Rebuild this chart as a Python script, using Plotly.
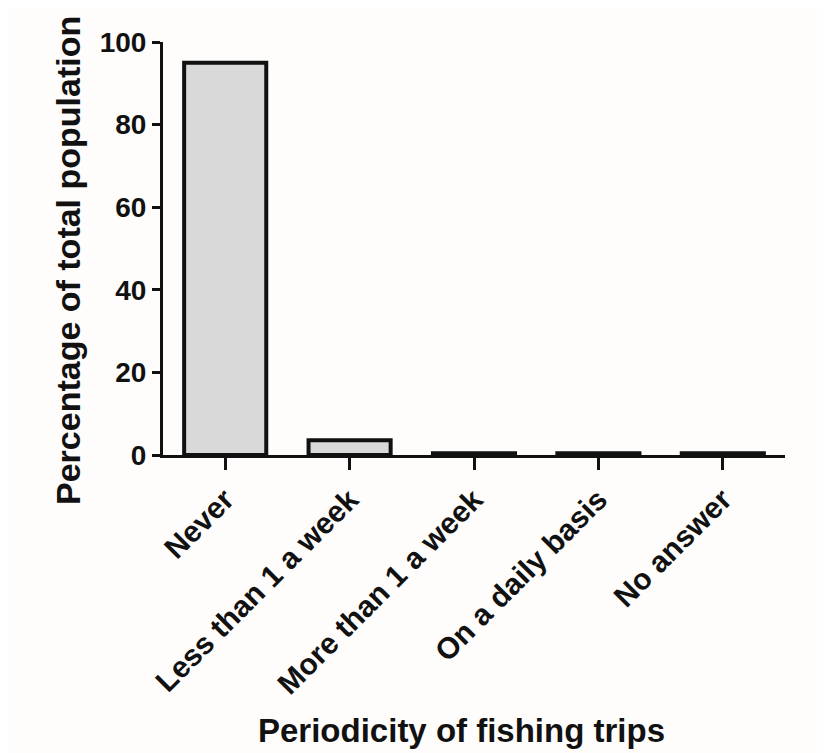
import plotly.graph_objects as go

categories = ["Never", "Less than 1 a week", "More than 1 a week", "On a daily basis", "No answer"]
values = [95.0, 3.6, 0.4, 0.4, 0.4]
y_ticks = [0, 20, 40, 60, 80, 100]
x_title = "Periodicity of fishing trips"
y_title = "Percentage of total population"

FONT = "Liberation Sans, Arial, sans-serif"
INK = "#111111"

fig = go.Figure()
fig.add_trace(go.Bar(
    x=categories, y=values,
    width=0.66,
    marker=dict(color="#d9d9d9", line=dict(color=INK, width=4)),
))

# page has an 8px body margin; plot area in page coords: x 163..785, y 42..455
fig.update_layout(
    width=825, height=753,
    margin=dict(l=155, r=48, t=34, b=306),
    paper_bgcolor="#fefdfc", plot_bgcolor="#fefdfc",
    showlegend=False,
    font=dict(family=FONT, color=INK),
)
fig.update_xaxes(
    range=[-0.5, 4.5],
    automargin=False,
    showline=True, linecolor=INK, linewidth=3,
    ticks="outside", ticklen=12, tickwidth=3, tickcolor=INK,
    tickangle=-45,
    tickfont=dict(size=30, family=FONT, weight="bold", color=INK),
    showgrid=False, zeroline=False,
)
fig.update_yaxes(
    range=[0, 100],
    automargin=False,
    tickvals=y_ticks,
    showline=True, linecolor=INK, linewidth=3,
    ticks="outside", ticklen=8, tickwidth=3, tickcolor=INK,
    tickfont=dict(size=28, family=FONT, weight="bold", color=INK),
    showgrid=False, zeroline=False,
)
fig.add_annotation(text=x_title, xref="paper", yref="paper",
                   x=(461 - 163) / 622, y=1 - (730 - 42) / 413,
                   xanchor="center", yanchor="middle", showarrow=False,
                   font=dict(size=33, family=FONT, weight="bold", color=INK))
fig.add_annotation(text=y_title, xref="paper", yref="paper",
                   x=(68 - 163) / 622, y=1 - (261 - 42) / 413,
                   xanchor="center", yanchor="middle", showarrow=False,
                   textangle=-90,
                   font=dict(size=34, family=FONT, weight="bold", color=INK))
fig.add_shape(type="line", xref="paper", yref="paper",
              x0=1.0 + 37/622, x1=1.0 + 37/622, y0=-2, y1=2,
              line=dict(color="#e6ebf0", width=3))

fig.write_html("out.html")
